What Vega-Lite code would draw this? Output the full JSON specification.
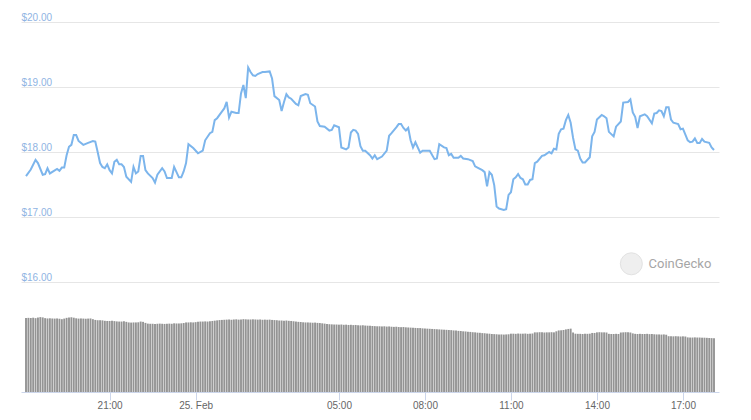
{
  "$schema": "https://vega.github.io/schema/vega-lite/v6.json",
  "width": 698,
  "height": 370,
  "autosize": "none",
  "padding": {"left": 21, "top": 22, "right": 32, "bottom": 28},
  "background": "white",
  "config": {"view": {"stroke": null}, "font": "Liberation Sans"},
  "datasets": {
    "price": [
      {"time":"2021-02-24T18:05","price":17.63},{"time":"2021-02-24T18:15","price":17.73},{"time":"2021-02-24T18:25","price":17.88},{"time":"2021-02-24T18:30","price":17.83},
      {"time":"2021-02-24T18:40","price":17.65},{"time":"2021-02-24T18:45","price":17.66},{"time":"2021-02-24T18:50","price":17.75},{"time":"2021-02-24T18:55","price":17.67},
      {"time":"2021-02-24T19:10","price":17.74},{"time":"2021-02-24T19:15","price":17.71},{"time":"2021-02-24T19:20","price":17.76},{"time":"2021-02-24T19:25","price":17.76},
      {"time":"2021-02-24T19:30","price":17.95},{"time":"2021-02-24T19:35","price":18.08},{"time":"2021-02-24T19:40","price":18.11},{"time":"2021-02-24T19:45","price":18.26},
      {"time":"2021-02-24T19:50","price":18.26},{"time":"2021-02-24T19:55","price":18.17},{"time":"2021-02-24T20:05","price":18.11},{"time":"2021-02-24T20:15","price":18.14},
      {"time":"2021-02-24T20:25","price":18.17},{"time":"2021-02-24T20:30","price":18.16},{"time":"2021-02-24T20:35","price":18.00},{"time":"2021-02-24T20:40","price":17.83},
      {"time":"2021-02-24T20:45","price":17.77},{"time":"2021-02-24T20:50","price":17.75},{"time":"2021-02-24T20:55","price":17.81},{"time":"2021-02-24T21:00","price":17.72},
      {"time":"2021-02-24T21:05","price":17.67},{"time":"2021-02-24T21:10","price":17.85},{"time":"2021-02-24T21:15","price":17.88},{"time":"2021-02-24T21:20","price":17.81},
      {"time":"2021-02-24T21:25","price":17.81},{"time":"2021-02-24T21:30","price":17.77},{"time":"2021-02-24T21:35","price":17.62},{"time":"2021-02-24T21:45","price":17.54},
      {"time":"2021-02-24T21:50","price":17.77},{"time":"2021-02-24T21:55","price":17.67},{"time":"2021-02-24T22:00","price":17.70},{"time":"2021-02-24T22:05","price":17.94},
      {"time":"2021-02-24T22:10","price":17.94},{"time":"2021-02-24T22:15","price":17.72},{"time":"2021-02-24T22:20","price":17.67},{"time":"2021-02-24T22:30","price":17.60},
      {"time":"2021-02-24T22:35","price":17.53},{"time":"2021-02-24T22:40","price":17.65},{"time":"2021-02-24T22:50","price":17.75},{"time":"2021-02-24T22:55","price":17.70},
      {"time":"2021-02-24T23:00","price":17.60},{"time":"2021-02-24T23:10","price":17.60},{"time":"2021-02-24T23:15","price":17.77},{"time":"2021-02-24T23:25","price":17.61},
      {"time":"2021-02-24T23:30","price":17.61},{"time":"2021-02-24T23:35","price":17.70},{"time":"2021-02-24T23:40","price":17.83},{"time":"2021-02-24T23:45","price":18.12},
      {"time":"2021-02-24T23:55","price":18.06},{"time":"2021-02-25T00:05","price":17.98},{"time":"2021-02-25T00:15","price":18.02},{"time":"2021-02-25T00:20","price":18.18},
      {"time":"2021-02-25T00:30","price":18.29},{"time":"2021-02-25T00:35","price":18.31},{"time":"2021-02-25T00:40","price":18.49},{"time":"2021-02-25T00:45","price":18.52},
      {"time":"2021-02-25T00:55","price":18.62},{"time":"2021-02-25T01:00","price":18.67},{"time":"2021-02-25T01:05","price":18.77},{"time":"2021-02-25T01:10","price":18.53},
      {"time":"2021-02-25T01:15","price":18.62},{"time":"2021-02-25T01:25","price":18.60},{"time":"2021-02-25T01:30","price":18.60},{"time":"2021-02-25T01:35","price":18.90},
      {"time":"2021-02-25T01:40","price":19.03},{"time":"2021-02-25T01:45","price":18.83},{"time":"2021-02-25T01:50","price":19.30},{"time":"2021-02-25T01:55","price":19.23},
      {"time":"2021-02-25T02:00","price":19.18},{"time":"2021-02-25T02:05","price":19.17},{"time":"2021-02-25T02:10","price":19.20},{"time":"2021-02-25T02:20","price":19.23},
      {"time":"2021-02-25T02:25","price":19.23},{"time":"2021-02-25T02:35","price":19.24},{"time":"2021-02-25T02:40","price":19.13},{"time":"2021-02-25T02:45","price":18.86},
      {"time":"2021-02-25T02:55","price":18.80},{"time":"2021-02-25T03:00","price":18.63},{"time":"2021-02-25T03:05","price":18.77},{"time":"2021-02-25T03:10","price":18.89},
      {"time":"2021-02-25T03:15","price":18.84},{"time":"2021-02-25T03:20","price":18.82},{"time":"2021-02-25T03:30","price":18.74},{"time":"2021-02-25T03:35","price":18.72},
      {"time":"2021-02-25T03:40","price":18.86},{"time":"2021-02-25T03:50","price":18.89},{"time":"2021-02-25T03:55","price":18.88},{"time":"2021-02-25T04:00","price":18.75},
      {"time":"2021-02-25T04:10","price":18.70},{"time":"2021-02-25T04:15","price":18.47},{"time":"2021-02-25T04:20","price":18.40},{"time":"2021-02-25T04:30","price":18.39},
      {"time":"2021-02-25T04:40","price":18.33},{"time":"2021-02-25T04:45","price":18.34},{"time":"2021-02-25T04:50","price":18.41},{"time":"2021-02-25T05:00","price":18.38},
      {"time":"2021-02-25T05:05","price":18.07},{"time":"2021-02-25T05:15","price":18.04},{"time":"2021-02-25T05:20","price":18.07},{"time":"2021-02-25T05:25","price":18.30},
      {"time":"2021-02-25T05:30","price":18.34},{"time":"2021-02-25T05:35","price":18.33},{"time":"2021-02-25T05:40","price":18.28},{"time":"2021-02-25T05:45","price":18.09},
      {"time":"2021-02-25T05:50","price":18.02},{"time":"2021-02-25T05:55","price":18.02},{"time":"2021-02-25T06:05","price":17.95},{"time":"2021-02-25T06:10","price":17.90},
      {"time":"2021-02-25T06:15","price":17.95},{"time":"2021-02-25T06:20","price":17.89},{"time":"2021-02-25T06:30","price":17.93},{"time":"2021-02-25T06:40","price":18.02},
      {"time":"2021-02-25T06:45","price":18.25},{"time":"2021-02-25T06:50","price":18.29},{"time":"2021-02-25T07:00","price":18.38},{"time":"2021-02-25T07:05","price":18.43},
      {"time":"2021-02-25T07:10","price":18.43},{"time":"2021-02-25T07:15","price":18.37},{"time":"2021-02-25T07:20","price":18.33},{"time":"2021-02-25T07:25","price":18.37},
      {"time":"2021-02-25T07:30","price":18.18},{"time":"2021-02-25T07:35","price":18.07},{"time":"2021-02-25T07:40","price":18.15},{"time":"2021-02-25T07:50","price":17.99},
      {"time":"2021-02-25T07:55","price":18.02},{"time":"2021-02-25T08:05","price":18.02},{"time":"2021-02-25T08:10","price":18.02},{"time":"2021-02-25T08:20","price":17.89},
      {"time":"2021-02-25T08:25","price":17.90},{"time":"2021-02-25T08:30","price":18.12},{"time":"2021-02-25T08:40","price":18.07},{"time":"2021-02-25T08:45","price":18.06},
      {"time":"2021-02-25T08:50","price":17.95},{"time":"2021-02-25T08:55","price":17.97},{"time":"2021-02-25T09:00","price":17.91},{"time":"2021-02-25T09:10","price":17.91},
      {"time":"2021-02-25T09:15","price":17.94},{"time":"2021-02-25T09:20","price":17.90},{"time":"2021-02-25T09:30","price":17.89},{"time":"2021-02-25T09:40","price":17.86},
      {"time":"2021-02-25T09:45","price":17.78},{"time":"2021-02-25T09:50","price":17.76},{"time":"2021-02-25T10:00","price":17.72},{"time":"2021-02-25T10:05","price":17.69},
      {"time":"2021-02-25T10:10","price":17.47},{"time":"2021-02-25T10:15","price":17.69},{"time":"2021-02-25T10:20","price":17.65},{"time":"2021-02-25T10:25","price":17.49},
      {"time":"2021-02-25T10:30","price":17.16},{"time":"2021-02-25T10:35","price":17.13},{"time":"2021-02-25T10:45","price":17.11},{"time":"2021-02-25T10:50","price":17.12},
      {"time":"2021-02-25T10:55","price":17.34},{"time":"2021-02-25T11:00","price":17.38},{"time":"2021-02-25T11:05","price":17.58},{"time":"2021-02-25T11:10","price":17.61},
      {"time":"2021-02-25T11:15","price":17.66},{"time":"2021-02-25T11:20","price":17.60},{"time":"2021-02-25T11:25","price":17.58},{"time":"2021-02-25T11:30","price":17.50},
      {"time":"2021-02-25T11:35","price":17.50},{"time":"2021-02-25T11:40","price":17.57},{"time":"2021-02-25T11:45","price":17.58},{"time":"2021-02-25T11:50","price":17.83},
      {"time":"2021-02-25T11:55","price":17.85},{"time":"2021-02-25T12:05","price":17.94},{"time":"2021-02-25T12:10","price":17.95},{"time":"2021-02-25T12:20","price":18.00},
      {"time":"2021-02-25T12:25","price":17.98},{"time":"2021-02-25T12:30","price":18.05},{"time":"2021-02-25T12:35","price":18.04},{"time":"2021-02-25T12:40","price":18.28},
      {"time":"2021-02-25T12:45","price":18.35},{"time":"2021-02-25T12:50","price":18.36},{"time":"2021-02-25T12:55","price":18.49},{"time":"2021-02-25T13:00","price":18.57},
      {"time":"2021-02-25T13:05","price":18.45},{"time":"2021-02-25T13:10","price":18.22},{"time":"2021-02-25T13:15","price":18.04},{"time":"2021-02-25T13:20","price":18.02},
      {"time":"2021-02-25T13:25","price":17.90},{"time":"2021-02-25T13:30","price":17.84},{"time":"2021-02-25T13:35","price":17.84},{"time":"2021-02-25T13:45","price":17.92},
      {"time":"2021-02-25T13:50","price":18.24},{"time":"2021-02-25T13:55","price":18.31},{"time":"2021-02-25T14:00","price":18.50},{"time":"2021-02-25T14:10","price":18.57},
      {"time":"2021-02-25T14:15","price":18.55},{"time":"2021-02-25T14:20","price":18.52},{"time":"2021-02-25T14:25","price":18.31},{"time":"2021-02-25T14:35","price":18.24},
      {"time":"2021-02-25T14:40","price":18.39},{"time":"2021-02-25T14:50","price":18.47},{"time":"2021-02-25T14:55","price":18.76},{"time":"2021-02-25T15:05","price":18.77},
      {"time":"2021-02-25T15:10","price":18.81},{"time":"2021-02-25T15:15","price":18.61},{"time":"2021-02-25T15:20","price":18.54},{"time":"2021-02-25T15:25","price":18.37},
      {"time":"2021-02-25T15:30","price":18.55},{"time":"2021-02-25T15:40","price":18.58},{"time":"2021-02-25T15:45","price":18.55},{"time":"2021-02-25T15:55","price":18.44},
      {"time":"2021-02-25T16:00","price":18.59},{"time":"2021-02-25T16:05","price":18.60},{"time":"2021-02-25T16:10","price":18.64},{"time":"2021-02-25T16:15","price":18.63},
      {"time":"2021-02-25T16:20","price":18.55},{"time":"2021-02-25T16:25","price":18.69},{"time":"2021-02-25T16:30","price":18.69},{"time":"2021-02-25T16:35","price":18.50},
      {"time":"2021-02-25T16:40","price":18.45},{"time":"2021-02-25T16:50","price":18.43},{"time":"2021-02-25T16:55","price":18.35},{"time":"2021-02-25T17:00","price":18.36},
      {"time":"2021-02-25T17:10","price":18.18},{"time":"2021-02-25T17:15","price":18.15},{"time":"2021-02-25T17:20","price":18.16},{"time":"2021-02-25T17:25","price":18.21},
      {"time":"2021-02-25T17:30","price":18.14},{"time":"2021-02-25T17:35","price":18.14},{"time":"2021-02-25T17:40","price":18.20},{"time":"2021-02-25T17:45","price":18.16},
      {"time":"2021-02-25T17:55","price":18.14},{"time":"2021-02-25T18:00","price":18.07},{"time":"2021-02-25T18:05","price":18.03}
    ],
    "volume": [
      {"time":"2021-02-24T18:05","volume":50.0},{"time":"2021-02-24T18:10","volume":50.1},{"time":"2021-02-24T18:15","volume":50.0},{"time":"2021-02-24T18:20","volume":50.2},
      {"time":"2021-02-24T18:25","volume":49.9},{"time":"2021-02-24T18:30","volume":50.3},{"time":"2021-02-24T18:35","volume":50.6},{"time":"2021-02-24T18:40","volume":50.4},
      {"time":"2021-02-24T18:45","volume":49.9},{"time":"2021-02-24T18:50","volume":49.7},{"time":"2021-02-24T18:55","volume":49.8},{"time":"2021-02-24T19:00","volume":49.7},
      {"time":"2021-02-24T19:05","volume":49.6},{"time":"2021-02-24T19:10","volume":49.7},{"time":"2021-02-24T19:15","volume":49.5},{"time":"2021-02-24T19:20","volume":49.2},
      {"time":"2021-02-24T19:25","volume":49.6},{"time":"2021-02-24T19:30","volume":50.1},{"time":"2021-02-24T19:35","volume":50.4},{"time":"2021-02-24T19:40","volume":50.5},
      {"time":"2021-02-24T19:45","volume":50.2},{"time":"2021-02-24T19:50","volume":49.8},{"time":"2021-02-24T19:55","volume":49.6},{"time":"2021-02-24T20:00","volume":49.7},
      {"time":"2021-02-24T20:05","volume":49.6},{"time":"2021-02-24T20:10","volume":49.5},{"time":"2021-02-24T20:15","volume":49.6},{"time":"2021-02-24T20:20","volume":49.7},
      {"time":"2021-02-24T20:25","volume":49.2},{"time":"2021-02-24T20:30","volume":48.7},{"time":"2021-02-24T20:35","volume":48.5},{"time":"2021-02-24T20:40","volume":48.5},
      {"time":"2021-02-24T20:45","volume":48.4},{"time":"2021-02-24T20:50","volume":48.1},{"time":"2021-02-24T20:55","volume":48.0},{"time":"2021-02-24T21:00","volume":48.0},
      {"time":"2021-02-24T21:05","volume":48.1},{"time":"2021-02-24T21:10","volume":47.9},{"time":"2021-02-24T21:15","volume":47.7},{"time":"2021-02-24T21:20","volume":47.6},
      {"time":"2021-02-24T21:25","volume":47.6},{"time":"2021-02-24T21:30","volume":47.8},{"time":"2021-02-24T21:35","volume":47.4},{"time":"2021-02-24T21:40","volume":47.0},
      {"time":"2021-02-24T21:45","volume":46.9},{"time":"2021-02-24T21:50","volume":47.0},{"time":"2021-02-24T21:55","volume":47.0},{"time":"2021-02-24T22:00","volume":47.1},
      {"time":"2021-02-24T22:05","volume":47.6},{"time":"2021-02-24T22:10","volume":47.4},{"time":"2021-02-24T22:15","volume":46.7},{"time":"2021-02-24T22:20","volume":46.2},
      {"time":"2021-02-24T22:25","volume":46.1},{"time":"2021-02-24T22:30","volume":46.1},{"time":"2021-02-24T22:35","volume":46.0},{"time":"2021-02-24T22:40","volume":46.1},
      {"time":"2021-02-24T22:45","volume":46.2},{"time":"2021-02-24T22:50","volume":46.1},{"time":"2021-02-24T22:55","volume":46.0},{"time":"2021-02-24T23:00","volume":46.1},
      {"time":"2021-02-24T23:05","volume":46.2},{"time":"2021-02-24T23:10","volume":46.1},{"time":"2021-02-24T23:15","volume":46.4},{"time":"2021-02-24T23:20","volume":46.3},
      {"time":"2021-02-24T23:25","volume":46.3},{"time":"2021-02-24T23:30","volume":46.4},{"time":"2021-02-24T23:35","volume":46.6},{"time":"2021-02-24T23:40","volume":47.0},
      {"time":"2021-02-24T23:45","volume":47.0},{"time":"2021-02-24T23:50","volume":47.1},{"time":"2021-02-24T23:55","volume":47.0},{"time":"2021-02-25T00:00","volume":47.2},
      {"time":"2021-02-25T00:05","volume":47.5},{"time":"2021-02-25T00:10","volume":47.6},{"time":"2021-02-25T00:15","volume":47.6},{"time":"2021-02-25T00:20","volume":47.7},
      {"time":"2021-02-25T00:25","volume":47.6},{"time":"2021-02-25T00:30","volume":47.8},{"time":"2021-02-25T00:35","volume":48.0},{"time":"2021-02-25T00:40","volume":48.2},
      {"time":"2021-02-25T00:45","volume":48.4},{"time":"2021-02-25T00:50","volume":48.6},{"time":"2021-02-25T00:55","volume":48.7},{"time":"2021-02-25T01:00","volume":48.8},
      {"time":"2021-02-25T01:05","volume":48.9},{"time":"2021-02-25T01:10","volume":49.0},{"time":"2021-02-25T01:15","volume":48.8},{"time":"2021-02-25T01:20","volume":49.0},
      {"time":"2021-02-25T01:25","volume":49.1},{"time":"2021-02-25T01:30","volume":48.9},{"time":"2021-02-25T01:35","volume":49.0},{"time":"2021-02-25T01:40","volume":49.2},
      {"time":"2021-02-25T01:45","volume":49.1},{"time":"2021-02-25T01:50","volume":49.0},{"time":"2021-02-25T01:55","volume":49.0},{"time":"2021-02-25T02:00","volume":49.1},
      {"time":"2021-02-25T02:05","volume":49.0},{"time":"2021-02-25T02:10","volume":48.9},{"time":"2021-02-25T02:15","volume":49.0},{"time":"2021-02-25T02:20","volume":48.8},
      {"time":"2021-02-25T02:25","volume":48.9},{"time":"2021-02-25T02:30","volume":48.8},{"time":"2021-02-25T02:35","volume":48.9},{"time":"2021-02-25T02:40","volume":48.7},
      {"time":"2021-02-25T02:45","volume":48.6},{"time":"2021-02-25T02:50","volume":48.5},{"time":"2021-02-25T02:55","volume":48.3},{"time":"2021-02-25T03:00","volume":48.3},
      {"time":"2021-02-25T03:05","volume":48.2},{"time":"2021-02-25T03:10","volume":48.3},{"time":"2021-02-25T03:15","volume":48.1},{"time":"2021-02-25T03:20","volume":48.0},
      {"time":"2021-02-25T03:25","volume":47.8},{"time":"2021-02-25T03:30","volume":47.6},{"time":"2021-02-25T03:35","volume":47.4},{"time":"2021-02-25T03:40","volume":47.3},
      {"time":"2021-02-25T03:45","volume":47.1},{"time":"2021-02-25T03:50","volume":47.0},{"time":"2021-02-25T03:55","volume":47.0},{"time":"2021-02-25T04:00","volume":46.9},
      {"time":"2021-02-25T04:05","volume":46.8},{"time":"2021-02-25T04:10","volume":46.9},{"time":"2021-02-25T04:15","volume":46.7},{"time":"2021-02-25T04:20","volume":46.6},
      {"time":"2021-02-25T04:25","volume":46.4},{"time":"2021-02-25T04:30","volume":46.2},{"time":"2021-02-25T04:35","volume":46.0},{"time":"2021-02-25T04:40","volume":45.8},
      {"time":"2021-02-25T04:45","volume":45.7},{"time":"2021-02-25T04:50","volume":45.6},{"time":"2021-02-25T04:55","volume":45.6},{"time":"2021-02-25T05:00","volume":45.5},
      {"time":"2021-02-25T05:05","volume":45.6},{"time":"2021-02-25T05:10","volume":45.4},{"time":"2021-02-25T05:15","volume":45.5},{"time":"2021-02-25T05:20","volume":45.3},
      {"time":"2021-02-25T05:25","volume":45.4},{"time":"2021-02-25T05:30","volume":45.2},{"time":"2021-02-25T05:35","volume":45.3},{"time":"2021-02-25T05:40","volume":45.1},
      {"time":"2021-02-25T05:45","volume":45.0},{"time":"2021-02-25T05:50","volume":45.1},{"time":"2021-02-25T05:55","volume":44.9},{"time":"2021-02-25T06:00","volume":44.8},
      {"time":"2021-02-25T06:05","volume":44.7},{"time":"2021-02-25T06:10","volume":44.6},{"time":"2021-02-25T06:15","volume":44.5},{"time":"2021-02-25T06:20","volume":44.4},
      {"time":"2021-02-25T06:25","volume":44.4},{"time":"2021-02-25T06:30","volume":44.3},{"time":"2021-02-25T06:35","volume":44.4},{"time":"2021-02-25T06:40","volume":44.2},
      {"time":"2021-02-25T06:45","volume":44.3},{"time":"2021-02-25T06:50","volume":44.1},{"time":"2021-02-25T06:55","volume":44.0},{"time":"2021-02-25T07:00","volume":44.1},
      {"time":"2021-02-25T07:05","volume":43.9},{"time":"2021-02-25T07:10","volume":43.8},{"time":"2021-02-25T07:15","volume":43.9},{"time":"2021-02-25T07:20","volume":43.7},
      {"time":"2021-02-25T07:25","volume":43.6},{"time":"2021-02-25T07:30","volume":43.5},{"time":"2021-02-25T07:35","volume":43.4},{"time":"2021-02-25T07:40","volume":43.3},
      {"time":"2021-02-25T07:45","volume":43.2},{"time":"2021-02-25T07:50","volume":43.2},{"time":"2021-02-25T07:55","volume":43.0},{"time":"2021-02-25T08:00","volume":42.9},
      {"time":"2021-02-25T08:05","volume":42.8},{"time":"2021-02-25T08:10","volume":42.7},{"time":"2021-02-25T08:15","volume":42.6},{"time":"2021-02-25T08:20","volume":42.5},
      {"time":"2021-02-25T08:25","volume":42.4},{"time":"2021-02-25T08:30","volume":42.3},{"time":"2021-02-25T08:35","volume":42.2},{"time":"2021-02-25T08:40","volume":42.1},
      {"time":"2021-02-25T08:45","volume":42.0},{"time":"2021-02-25T08:50","volume":41.9},{"time":"2021-02-25T08:55","volume":41.8},{"time":"2021-02-25T09:00","volume":41.6},
      {"time":"2021-02-25T09:05","volume":41.5},{"time":"2021-02-25T09:10","volume":41.3},{"time":"2021-02-25T09:15","volume":41.2},{"time":"2021-02-25T09:20","volume":41.0},
      {"time":"2021-02-25T09:25","volume":40.9},{"time":"2021-02-25T09:30","volume":40.7},{"time":"2021-02-25T09:35","volume":40.6},{"time":"2021-02-25T09:40","volume":40.4},
      {"time":"2021-02-25T09:45","volume":40.3},{"time":"2021-02-25T09:50","volume":40.1},{"time":"2021-02-25T09:55","volume":40.0},{"time":"2021-02-25T10:00","volume":39.8},
      {"time":"2021-02-25T10:05","volume":39.7},{"time":"2021-02-25T10:10","volume":39.5},{"time":"2021-02-25T10:15","volume":39.4},{"time":"2021-02-25T10:20","volume":39.2},
      {"time":"2021-02-25T10:25","volume":39.1},{"time":"2021-02-25T10:30","volume":39.0},{"time":"2021-02-25T10:35","volume":38.9},{"time":"2021-02-25T10:40","volume":38.9},
      {"time":"2021-02-25T10:45","volume":38.8},{"time":"2021-02-25T10:50","volume":38.9},{"time":"2021-02-25T10:55","volume":39.0},{"time":"2021-02-25T11:00","volume":39.4},
      {"time":"2021-02-25T11:05","volume":39.4},{"time":"2021-02-25T11:10","volume":39.3},{"time":"2021-02-25T11:15","volume":39.5},{"time":"2021-02-25T11:20","volume":39.4},
      {"time":"2021-02-25T11:25","volume":39.4},{"time":"2021-02-25T11:30","volume":39.5},{"time":"2021-02-25T11:35","volume":39.3},{"time":"2021-02-25T11:40","volume":39.4},
      {"time":"2021-02-25T11:45","volume":39.5},{"time":"2021-02-25T11:50","volume":40.3},{"time":"2021-02-25T11:55","volume":40.3},{"time":"2021-02-25T12:00","volume":40.4},
      {"time":"2021-02-25T12:05","volume":40.3},{"time":"2021-02-25T12:10","volume":40.2},{"time":"2021-02-25T12:15","volume":40.3},{"time":"2021-02-25T12:20","volume":40.3},
      {"time":"2021-02-25T12:25","volume":40.4},{"time":"2021-02-25T12:30","volume":40.3},{"time":"2021-02-25T12:35","volume":41.0},{"time":"2021-02-25T12:40","volume":41.6},
      {"time":"2021-02-25T12:45","volume":41.7},{"time":"2021-02-25T12:50","volume":41.9},{"time":"2021-02-25T12:55","volume":42.3},{"time":"2021-02-25T13:00","volume":42.6},
      {"time":"2021-02-25T13:05","volume":42.8},{"time":"2021-02-25T13:10","volume":40.2},{"time":"2021-02-25T13:15","volume":39.4},{"time":"2021-02-25T13:20","volume":39.3},
      {"time":"2021-02-25T13:25","volume":39.3},{"time":"2021-02-25T13:30","volume":39.2},{"time":"2021-02-25T13:35","volume":39.3},{"time":"2021-02-25T13:40","volume":39.3},
      {"time":"2021-02-25T13:45","volume":39.4},{"time":"2021-02-25T13:50","volume":39.9},{"time":"2021-02-25T13:55","volume":39.9},{"time":"2021-02-25T14:00","volume":40.3},
      {"time":"2021-02-25T14:05","volume":40.4},{"time":"2021-02-25T14:10","volume":40.3},{"time":"2021-02-25T14:15","volume":40.3},{"time":"2021-02-25T14:20","volume":40.2},
      {"time":"2021-02-25T14:25","volume":39.3},{"time":"2021-02-25T14:30","volume":39.2},{"time":"2021-02-25T14:35","volume":39.2},{"time":"2021-02-25T14:40","volume":39.3},
      {"time":"2021-02-25T14:45","volume":39.2},{"time":"2021-02-25T14:50","volume":40.2},{"time":"2021-02-25T14:55","volume":40.3},{"time":"2021-02-25T15:00","volume":40.4},
      {"time":"2021-02-25T15:05","volume":40.3},{"time":"2021-02-25T15:10","volume":40.2},{"time":"2021-02-25T15:15","volume":39.6},{"time":"2021-02-25T15:20","volume":39.3},
      {"time":"2021-02-25T15:25","volume":39.2},{"time":"2021-02-25T15:30","volume":39.3},{"time":"2021-02-25T15:35","volume":39.2},{"time":"2021-02-25T15:40","volume":39.2},
      {"time":"2021-02-25T15:45","volume":39.3},{"time":"2021-02-25T15:50","volume":39.1},{"time":"2021-02-25T15:55","volume":39.2},{"time":"2021-02-25T16:00","volume":39.0},
      {"time":"2021-02-25T16:05","volume":38.9},{"time":"2021-02-25T16:10","volume":38.9},{"time":"2021-02-25T16:15","volume":38.8},{"time":"2021-02-25T16:20","volume":38.9},
      {"time":"2021-02-25T16:25","volume":38.7},{"time":"2021-02-25T16:30","volume":37.7},{"time":"2021-02-25T16:35","volume":37.6},{"time":"2021-02-25T16:40","volume":37.6},
      {"time":"2021-02-25T16:45","volume":37.7},{"time":"2021-02-25T16:50","volume":37.6},{"time":"2021-02-25T16:55","volume":37.5},{"time":"2021-02-25T17:00","volume":37.6},
      {"time":"2021-02-25T17:05","volume":37.5},{"time":"2021-02-25T17:10","volume":36.9},{"time":"2021-02-25T17:15","volume":36.8},{"time":"2021-02-25T17:20","volume":36.8},
      {"time":"2021-02-25T17:25","volume":36.9},{"time":"2021-02-25T17:30","volume":36.8},{"time":"2021-02-25T17:35","volume":36.8},{"time":"2021-02-25T17:40","volume":36.7},
      {"time":"2021-02-25T17:45","volume":36.7},{"time":"2021-02-25T17:50","volume":36.6},{"time":"2021-02-25T17:55","volume":36.5},{"time":"2021-02-25T18:00","volume":36.4},
      {"time":"2021-02-25T18:05","volume":36.3}
    ]
  },
  "layer": [
    {
      "data": {"name": "volume"},
      "mark": {"type": "bar", "color": "#949494", "size": 1.9, "clip": true},
      "encoding": {
        "x": {
          "field": "time", "type": "temporal",
          "scale": {"domain": [{"year": 2021, "month": 2, "date": 24, "hours": 18, "minutes": 5}, {"year": 2021, "month": 2, "date": 25, "hours": 18, "minutes": 5}]},
          "axis": {
            "title": null,
            "values": [
              {"year": 2021, "month": 2, "date": 24, "hours": 21},
              {"year": 2021, "month": 2, "date": 25, "hours": 0},
              {"year": 2021, "month": 2, "date": 25, "hours": 5},
              {"year": 2021, "month": 2, "date": 25, "hours": 8},
              {"year": 2021, "month": 2, "date": 25, "hours": 11},
              {"year": 2021, "month": 2, "date": 25, "hours": 14},
              {"year": 2021, "month": 2, "date": 25, "hours": 17}
            ],
            "labelExpr": "hours(datum.value) == 0 ? timeFormat(datum.value, '%d. %b') : timeFormat(datum.value, '%H:%M')",
            "grid": false,
            "domainColor": "#ccd6eb",
            "tickColor": "#ccd6eb",
            "tickSize": 8,
            "labelPadding": 0,
            "labelColor": "#666666",
            "labelFontSize": 10,
            "labelFlush": false
          }
        },
        "y": {"field": "volume", "type": "quantitative", "scale": {"domain": [0, 250], "nice": false}, "axis": null}
      }
    },
    {
      "layer": [
        {
          "data": {"name": "price"},
          "mark": {"type": "line", "color": "#7cb5ec", "strokeWidth": 2},
          "encoding": {
            "x": {"field": "time", "type": "temporal"},
            "y": {
              "field": "price", "type": "quantitative",
              "scale": {"domain": [14.3077, 20], "nice": false, "zero": false},
              "axis": {
                "orient": "left",
                "title": null,
                "values": [16, 17, 18, 19, 20],
                "format": "$.2f",
                "grid": true,
                "gridColor": "#e6e6e6",
                "domain": false,
                "ticks": false,
                "tickSize": 0,
                "labelAlign": "left",
                "labelBaseline": "alphabetic",
                "labelOffset": -2,
                "labelPadding": 0,
                "labelColor": "#8fb4e3",
                "labelFontSize": 10
              }
            }
          }
        },
        {
          "data": {"values": [{"brand": "CoinGecko"}]},
          "mark": {"type": "point", "shape": "circle", "filled": true, "size": 484, "color": "#efefef", "stroke": "#e2e2e2", "strokeWidth": 1, "opacity": 1},
          "encoding": {
            "x": {"datum": {"year": 2021, "month": 2, "date": 25, "hours": 15, "minutes": 12}, "type": "temporal"},
            "y": {"datum": 16.28, "type": "quantitative"}
          }
        },
        {
          "data": {"values": [{"brand": "CoinGecko"}]},
          "mark": {"type": "text", "align": "left", "baseline": "middle", "font": "Roboto", "fontSize": 13, "color": "#a6a6a6"},
          "encoding": {
            "x": {"datum": {"year": 2021, "month": 2, "date": 25, "hours": 15, "minutes": 48}, "type": "temporal"},
            "y": {"datum": 16.28, "type": "quantitative"},
            "text": {"field": "brand"}
          }
        }
      ]
    }
  ],
  "resolve": {"scale": {"y": "independent"}}
}
